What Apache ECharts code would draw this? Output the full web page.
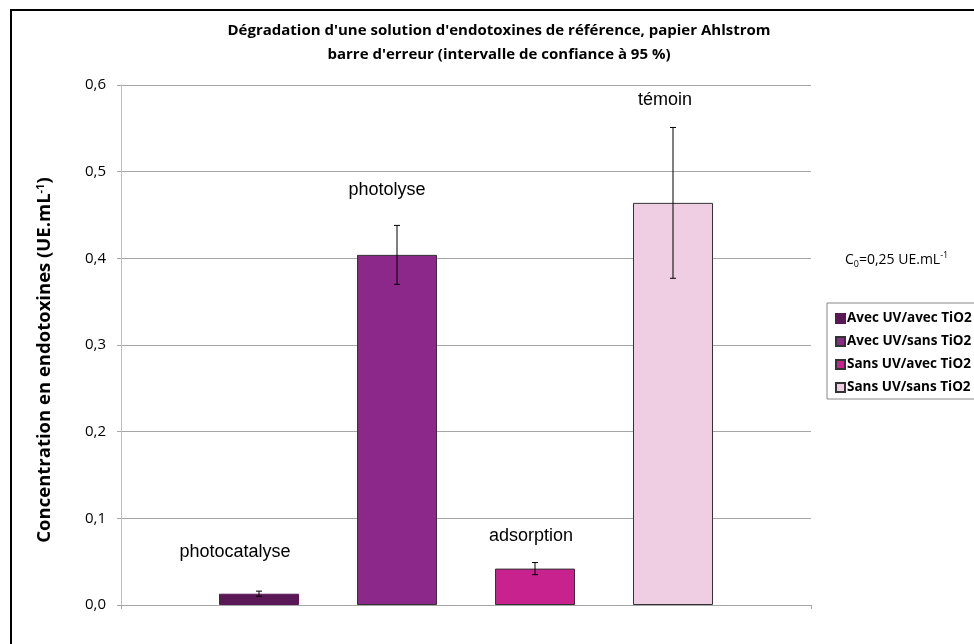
<!DOCTYPE html>
<html>
<head>
<meta charset="utf-8">
<script src="https://cdn.jsdelivr.net/npm/echarts@6/dist/echarts.min.js"></script>
<style>html,body{margin:0;padding:0;background:#fff}#c{width:974px;height:644px}</style>
</head>
<body>
<div id="c"></div>
<script>
// ---- data ----
var categories = ['photocatalyse', 'photolyse', 'adsorption', 'témoin'];
var seriesNames = ['Avec UV/avec TiO2', 'Avec UV/sans TiO2', 'Sans UV/avec TiO2', 'Sans UV/sans TiO2'];
var positions = [1, 2, 3, 4];
var values = [0.013, 0.404, 0.042, 0.464];
var errors = [0.003, 0.034, 0.007, 0.087];
var yTicks = [0, 0.1, 0.2, 0.3, 0.4, 0.5, 0.6];

// ---- styles ----
var colors = ['#5a1857', '#8b2889', '#c8228e', '#efcde2'];
var borders = ['#5a1857', '#333333', '#333333', '#333333'];
var labelStyle = [
  {dx: -24, dist: 33},
  {dx: -10, dist: 56},
  {dx: -4, dist: 24},
  {dx: -8, dist: 94}
];

var chart = echarts.init(document.getElementById('c'));
var series = [];
seriesNames.forEach(function (name, i) {
  series.push({
    name: name,
    type: 'bar',
    barWidth: 80,
    barGap: '-100%',
    data: [[positions[i], values[i]]],
    itemStyle: {color: colors[i], borderColor: borders[i], borderWidth: 1},
    label: {
      show: true,
      position: 'top',
      distance: labelStyle[i].dist,
      offset: [labelStyle[i].dx, 0],
      formatter: categories[i],
      fontFamily: 'Liberation Sans',
      fontSize: 18,
      color: '#000'
    },
    z: 2
  });
});
series.push({
  type: 'custom',
  name: 'err',
  z: 5,
  data: positions.map(function (p, i) { return [p, values[i] - errors[i], values[i] + errors[i]]; }),
  renderItem: function (params, api) {
    var lo = api.coord([api.value(0), api.value(1)]);
    var hi = api.coord([api.value(0), api.value(2)]);
    var w = 3;
    var st = {stroke: '#000', lineWidth: 1};
    return {
      type: 'group',
      children: [
        {type: 'line', shape: {x1: hi[0], y1: hi[1], x2: lo[0], y2: lo[1]}, style: st},
        {type: 'line', shape: {x1: hi[0] - w, y1: hi[1], x2: hi[0] + w, y2: hi[1]}, style: st},
        {type: 'line', shape: {x1: lo[0] - w, y1: lo[1], x2: lo[0] + w, y2: lo[1]}, style: st}
      ]
    };
  },
  encode: {x: 0, y: [1, 2]},
  tooltip: {show: false}
});

chart.setOption({
  animation: false,
  backgroundColor: '#fff',
  title: {
    text: "Dégradation d'une solution d'endotoxines de référence, papier Ahlstrom\nbarre d'erreur (intervalle de confiance à 95 %)",
    left: 494,
    textAlign: 'center',
    top: 14,
    textStyle: {fontFamily: 'Open Sans', fontWeight: 'bold', fontSize: 15, lineHeight: 24, color: '#000'}
  },
  legend: {
    data: seriesNames,
    orient: 'vertical',
    left: 830,
    top: 304,
    itemWidth: 9,
    itemHeight: 9,
    itemGap: 4,
    icon: 'rect',
    textStyle: {fontFamily: 'Open Sans', fontWeight: 'bold', fontSize: 13.5, lineHeight: 19, color: '#000', padding: [0, 0, 0, -3]}
  },
  grid: {left: 121, right: 163, top: 85, bottom: 39},
  xAxis: {
    type: 'value',
    min: 0,
    max: 5,
    interval: 5,
    axisLine: {lineStyle: {color: '#a6a6a6'}},
    axisTick: {show: true, length: 4, lineStyle: {color: '#a6a6a6'}},
    axisLabel: {show: false},
    splitLine: {show: false}
  },
  yAxis: {
    type: 'value',
    min: yTicks[0],
    max: yTicks[yTicks.length - 1],
    interval: 0.1,
    name: '{b|Concentration en endotoxines (UE.mL}{s|-1}{b|)}',
    nameLocation: 'middle',
    nameGap: 66,
    nameRotate: 90,
    nameTextStyle: {
      padding: [0, 30, 0, 0],
      rich: {
        b: {fontFamily: 'Open Sans', fontWeight: 'bold', fontSize: 18.5, color: '#000'},
        s: {fontFamily: 'Open Sans', fontWeight: 'bold', fontSize: 11, color: '#000', verticalAlign: 'top', padding: [0, 0, 9, 0]}
      }
    },
    axisLine: {show: true, lineStyle: {color: '#bdbdbd'}},
    axisTick: {show: true, length: 4, lineStyle: {color: '#a6a6a6'}},
    axisLabel: {
      margin: 15,
      fontFamily: 'Open Sans',
      fontSize: 15,
      color: '#000',
      formatter: function (v) { return v.toFixed(1).replace('.', ','); }
    },
    splitLine: {lineStyle: {color: '#a6a6a6'}}
  },
  graphic: [
    {type: 'rect', shape: {x: 11, y: 10, width: 1000, height: 700}, style: {fill: 'none', stroke: '#000', lineWidth: 2}, z: 100},
    {type: 'rect', shape: {x: 827, y: 303, width: 200, height: 96}, style: {fill: 'none', stroke: '#888', lineWidth: 1}, z: 100},
    {
      type: 'text', left: 845, top: 251,
      style: {
        text: '{n|C}{sub|0}{n|=0,25 UE.mL}{sup|-1}',
        rich: {
          n: {fontFamily: 'Open Sans', fontSize: 14, color: '#000'},
          sub: {fontFamily: 'Open Sans', fontSize: 9, color: '#000', padding: [9, 0, 0, 0]},
          sup: {fontFamily: 'Open Sans', fontSize: 9, color: '#000', padding: [0, 0, 9, 0]}
        }
      }
    }
  ],
  series: series
});
</script>
</body>
</html>
